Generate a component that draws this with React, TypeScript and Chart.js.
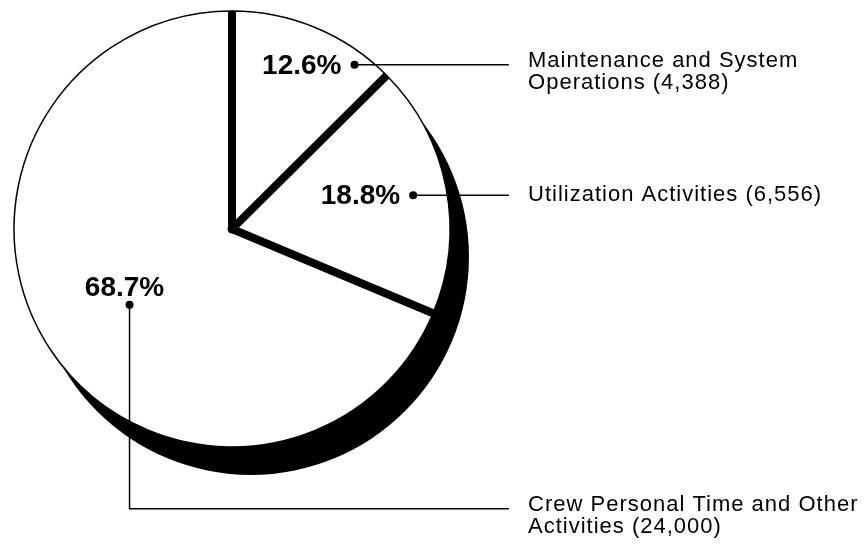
import React, { useEffect, useRef } from "react";
import { Chart, registerables } from "chart.js";

Chart.register(...registerables);

// ---- data ----
const categories = [
  "Maintenance and System Operations",
  "Utilization Activities",
  "Crew Personal Time and Other Activities",
];
const hours = [4388, 6556, 24000];
const percentLabels = ["12.6%", "18.8%", "68.7%"];
const legendLines = [
  ["Maintenance and System", "Operations (4,388)"],
  ["Utilization Activities (6,556)"],
  ["Crew Personal Time and Other", "Activities (24,000)"],
];

const LEGEND_FONT = "22px 'Liberation Sans', Arial, sans-serif";
const PCT_FONT = "bold 28px 'Liberation Sans', Arial, sans-serif";

const pieDecor = {
  id: "pieDecor",
  beforeDatasetsDraw(chart: any) {
    const ctx = chart.ctx;
    const el = chart.getDatasetMeta(0).data[0];
    const { x, y, outerRadius: r } = el;
    ctx.save();
    ctx.fillStyle = "#000";
    ctx.beginPath();
    ctx.arc(x + r * 0.087, y + r * 0.128, r, 0, Math.PI * 2);
    ctx.fill();
    ctx.restore();
  },
  afterDatasetsDraw(chart: any) {
    const ctx = chart.ctx;
    const meta = chart.getDatasetMeta(0);
    const { x, y, outerRadius: r } = meta.data[0];
    ctx.save();
    // thick separators between slices
    ctx.strokeStyle = "#000";
    ctx.lineWidth = 8;
    ctx.lineCap = "butt";
    meta.data.forEach((el: any) => {
      const a = el.startAngle;
      ctx.beginPath();
      ctx.moveTo(x, y);
      ctx.lineTo(x + Math.cos(a) * r, y + Math.sin(a) * r);
      ctx.stroke();
    });
    ctx.fillStyle = "#000";
    ctx.beginPath();
    ctx.arc(x, y, 4.5, 0, Math.PI * 2);
    ctx.fill();

    // label anchors (dots) relative to pie centre, in radius units
    const anchors = [
      [0.562, -0.753],
      [0.831, -0.155],
      [-0.47, 0.347],
    ];
    const legendX = x + r * 1.358; // text start
    const lineEnd = x + r * 1.27;
    ctx.lineWidth = 1.5;
    anchors.forEach(([ax, ay], i) => {
      const dx = x + ax * r;
      const dy = y + ay * r;
      // dot
      ctx.beginPath();
      ctx.arc(dx, dy, 4, 0, Math.PI * 2);
      ctx.fill();
      // percentage text
      ctx.font = PCT_FONT;
      ctx.textBaseline = "middle";
      (ctx as any).letterSpacing = "0px";
      if (i < 2) {
        ctx.textAlign = "right";
        ctx.fillText(percentLabels[i], dx - 13, dy + 1);
      } else {
        ctx.textAlign = "center";
        ctx.fillText(percentLabels[i], dx - 5, dy - 16);
      }
      // connector
      ctx.beginPath();
      let ly = dy;
      if (i < 2) {
        ctx.moveTo(dx, dy);
        ctx.lineTo(lineEnd, dy);
      } else {
        ly = y + r * 1.283;
        ctx.moveTo(dx, dy);
        ctx.lineTo(dx, ly);
        ctx.lineTo(lineEnd, ly);
      }
      ctx.stroke();
      // legend text
      ctx.font = LEGEND_FONT;
      (ctx as any).letterSpacing = "1px";
      ctx.textAlign = "left";
      ctx.textBaseline = "middle";
      const lines = legendLines[i];
      const startY = lines.length > 1 ? ly - 4 : ly;
      lines.forEach((t, k) => {
        ctx.fillText(t, legendX, startY + k * 22);
      });
    });
    ctx.restore();
  },
};

export default function App() {
  const ref = useRef<HTMLCanvasElement | null>(null);
  useEffect(() => {
    if (!ref.current) return;
    const chart = new Chart(ref.current, {
      type: "pie",
      data: {
        labels: categories,
        datasets: [
          {
            data: hours,
            backgroundColor: "#ffffff",
            borderColor: "#000000",
            borderWidth: 1.5,
          },
        ],
      },
      options: {
        responsive: true,
        maintainAspectRatio: false,
        animation: false,
        radius: 218,
        layout: { padding: { left: 2, top: 0, right: 402, bottom: 94 } },
        plugins: {
          legend: { display: false },
          tooltip: { enabled: false },
          title: { display: false },
        },
      } as any,
      plugins: [pieDecor],
    });
    return () => chart.destroy();
  }, []);
  return (
    <div
      style={{
        position: "fixed",
        left: 0,
        top: 0,
        width: 864,
        height: 552,
        background: "#fff",
      }}
    >
      <canvas ref={ref} />
    </div>
  );
}
